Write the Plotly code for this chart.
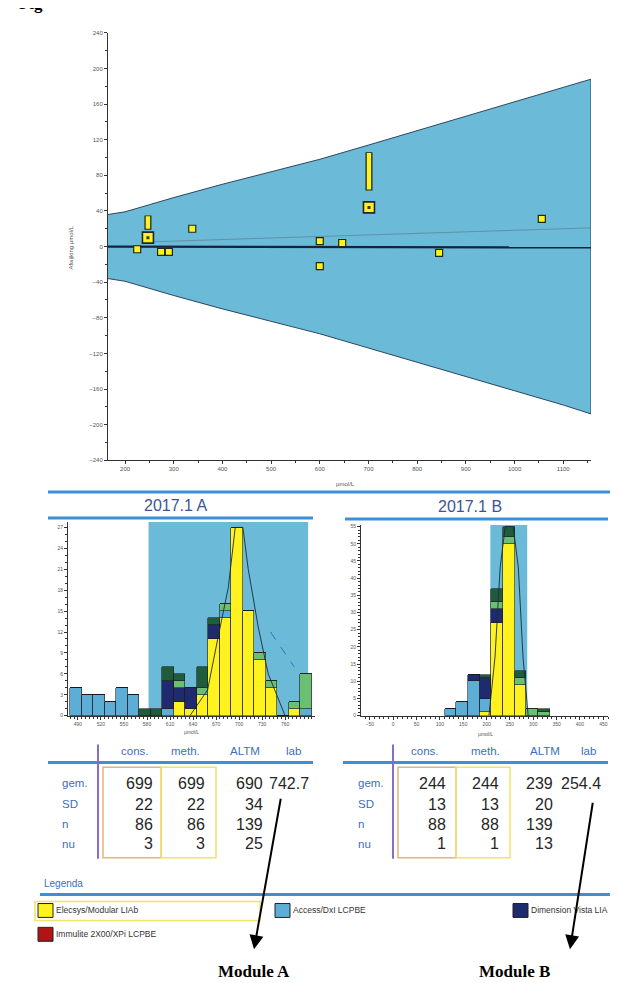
import plotly.graph_objects as go

W, H = 618, 983


def px(x):
    return x / W


def py(y):
    return 1 - y / H


# ---------------- top chart (difference plot) ----------------
band_x = [165, 200, 250, 300, 400, 500, 600, 700, 800, 900, 1000, 1100, 1157]
band_upper = [36, 39, 47, 55, 70, 84, 98, 114, 130, 146, 162, 178, 188]
band_lower = [-36, -39, -47, -55, -70, -84, -98, -114, -130, -146, -162, -178, -188]
zero_x = [165, 1157]
zero_y = [0, -1]
reg_x = [235, 1157]
reg_y = [5, 21]
pt_x = [225, 274, 290, 338, 600, 600, 646, 845, 1056]
pt_y = [-3, -6, -6, 20, 6, -22, 4, -7, 31]
big_x = [247, 701]
big_y = [10, 44]
range_x = [247, 701]
range_lo = [20, 64]
range_hi = [34, 105]
top_yticks = [-240, -200, -160, -120, -80, -40, 0, 40, 80, 120, 160, 200, 240]
top_xticks = [200, 300, 400, 500, 600, 700, 800, 900, 1000, 1100]

# ---------------- histograms ----------------
a_bins = [487.5, 502.5, 517.5, 532.5, 547.5, 562.5, 577.5, 592.5, 607.5, 622.5, 637.5,
          652.5, 667.5, 682.5, 697.5, 712.5, 727.5, 742.5, 757.5, 772.5, 787.5]
a_yellow = [0, 0, 0, 0, 0, 0, 0, 0, 0, 2, 1, 3, 11, 14, 27, 15, 8, 4, 0, 1, 0]
a_lblue = [4, 3, 3, 2, 4, 3, 0, 0, 1, 0, 0, 0, 0, 1, 0, 0, 0, 0, 0, 0, 1]
a_navy = [0, 0, 0, 0, 0, 0, 0, 0, 4, 2, 3, 0, 2, 0, 0, 0, 0, 0, 0, 0, 0]
a_lgreen = [0, 0, 0, 0, 0, 0, 0, 0, 0, 1, 0, 1, 0, 1, 0, 0, 1, 1, 0, 1, 5]
a_dgreen = [0, 0, 0, 0, 0, 0, 1, 1, 2, 1, 0, 3, 1, 0, 0, 0, 0, 0, 0, 0, 0]
a_curve_x = [636, 659, 672, 686, 695, 705, 712, 725, 738, 751, 760]
a_curve_y = [0, 3.7, 10.9, 18.4, 27, 27, 21, 12.7, 6, 2.3, 0]
a_band = [582, 790]
a_lab_x = [741, 772]
a_lab_y = [12, 7]
a_xticks = [490, 520, 550, 580, 610, 640, 670, 700, 730, 760]
a_yticks = [0, 3, 6, 9, 12, 15, 18, 21, 24, 27]

b_bins = [122.5, 147.5, 172.5, 197.5, 222.5, 247.5, 272.5, 297.5, 322.5]
b_yellow = [0, 0, 0, 1, 27, 50, 9, 0, 0]
b_lblue = [2, 4, 10, 4, 0, 0, 0, 0, 0]
b_navy = [0, 0, 2, 6, 4, 0, 0, 0, 0]
b_lgreen = [0, 0, 0, 0, 2, 2, 2, 2, 1]
b_dgreen = [0, 0, 0, 1, 4, 3, 2, 0, 1]
b_curve_x = [205, 218, 229, 240, 257, 268, 278, 289]
b_curve_y = [0, 17, 43, 55, 55, 43, 17, 0]
b_band = [208, 287]
b_xticks = [-50, 0, 50, 100, 150, 200, 250, 300, 350, 400, 450]
b_yticks = [0, 5, 10, 15, 20, 25, 30, 35, 40, 45, 50, 55]

# ---------------- tables ----------------
row_labels = ["gem.", "SD", "n", "nu"]
col_headers = ["cons.", "meth.", "ALTM", "lab"]
a_cons = ["699", "22", "86", "3"]
a_meth = ["699", "22", "86", "3"]
a_altm = ["690", "34", "139", "25"]
a_lab = ["742.7", "", "", ""]
b_cons = ["244", "13", "88", "1"]
b_meth = ["244", "13", "88", "1"]
b_altm = ["239", "20", "139", "13"]
b_lab = ["254.4", "", "", ""]

legend_names = ["Elecsys/Modular LIAb", "Access/DxI LCPBE", "Dimension Vista LIA",
                "Immulite 2X00/XPi LCPBE"]

YELLOW = "#FFF21F"
LBLUE = "#5DAED6"
NAVY = "#1F2B6E"
LGREEN = "#6BBF73"
DGREEN = "#1F5C3C"
RED = "#B01515"
BAND = "#6BBAD7"
LINEBLUE = "#3D90D8"
TXTBLUE = "#3A6FBF"
PURPLE = "#8A6CC8"

fig = go.Figure()

# band
fig.add_trace(go.Scatter(
    x=band_x + band_x[::-1], y=band_upper + band_lower[::-1],
    fill="toself", fillcolor=BAND, mode="lines",
    line=dict(color="#1C3550", width=0.9), hoverinfo="skip", showlegend=False,
    xaxis="x", yaxis="y"))
fig.add_trace(go.Scatter(x=zero_x, y=zero_y, mode="lines",
                         line=dict(color="#14243F", width=2.2), showlegend=False))
fig.add_trace(go.Scatter(x=reg_x, y=reg_y, mode="lines",
                         line=dict(color="#5E8799", width=0.8), showlegend=False))
# range bars
for xv, lo, hi in zip(range_x, range_lo, range_hi):
    fig.add_trace(go.Scatter(x=[xv, xv], y=[lo - 1, hi + 1], mode="lines",
                             line=dict(color="#1E2A20", width=7), showlegend=False))
    fig.add_trace(go.Scatter(x=[xv, xv], y=[lo, hi], mode="lines",
                             line=dict(color=YELLOW, width=4.4), showlegend=False))
fig.add_trace(go.Scatter(x=pt_x, y=pt_y, mode="markers", showlegend=False,
                         marker=dict(symbol="square", size=7, color=YELLOW,
                                     line=dict(color="#1E2A20", width=1.2))))
fig.add_trace(go.Scatter(x=big_x, y=big_y, mode="markers", showlegend=False,
                         marker=dict(symbol="square", size=11, color=YELLOW,
                                     line=dict(color="#1E2A20", width=1.6))))
fig.add_trace(go.Scatter(x=big_x, y=big_y, mode="markers", showlegend=False,
                         marker=dict(symbol="square", size=3, color="#3A3A20")))

# histograms
series = [("yellow", YELLOW), ("lblue", LBLUE), ("navy", NAVY), ("lgreen", LGREEN), ("dgreen", DGREEN)]
a_data = dict(yellow=a_yellow, lblue=a_lblue, navy=a_navy, lgreen=a_lgreen, dgreen=a_dgreen)
b_data = dict(yellow=b_yellow, lblue=b_lblue, navy=b_navy, lgreen=b_lgreen, dgreen=b_dgreen)
for key, col in series:
    fig.add_trace(go.Bar(x=a_bins, y=a_data[key], width=15, marker=dict(color=col, line=dict(color="#1a1a1a", width=0.6)),
                         xaxis="x2", yaxis="y2", showlegend=False))
for key, col in series:
    fig.add_trace(go.Bar(x=b_bins, y=b_data[key], width=25, marker=dict(color=col, line=dict(color="#1a1a1a", width=0.6)),
                         xaxis="x3", yaxis="y3", showlegend=False))
fig.add_trace(go.Scatter(x=a_curve_x, y=a_curve_y, mode="lines", line=dict(color="#1d2a3a", width=0.9),
                         xaxis="x2", yaxis="y2", showlegend=False))
fig.add_trace(go.Scatter(x=a_lab_x, y=a_lab_y, mode="lines", line=dict(color="#3070C0", width=1, dash="dash"),
                         xaxis="x2", yaxis="y2", showlegend=False))
fig.add_trace(go.Scatter(x=b_curve_x, y=b_curve_y, mode="lines", line=dict(color="#1d2a3a", width=0.9),
                         xaxis="x3", yaxis="y3", showlegend=False))

shapes = []
annotations = []

# histogram bands
shapes.append(dict(type="rect", xref="x2", yref="y2", x0=a_band[0], x1=a_band[1], y0=0, y1=27.8,
                   fillcolor=BAND, line=dict(width=0), layer="below"))
shapes.append(dict(type="rect", xref="x3", yref="y3", x0=b_band[0], x1=b_band[1], y0=0, y1=55.5,
                   fillcolor=BAND, line=dict(width=0), layer="below"))


def pline(x0, y0, x1, y1, color, width):
    shapes.append(dict(type="line", xref="paper", yref="paper", x0=px(x0), y0=py(y0), x1=px(x1), y1=py(y1),
                       line=dict(color=color, width=width)))


def ptext(x, y, text, size, color="#333", xanchor="center", family="Liberation Sans, Arial", **kw):
    annotations.append(dict(xref="paper", yref="paper", x=px(x), y=py(y), text=text, showarrow=False,
                            xanchor=xanchor, yanchor="middle", font=dict(size=size, color=color, family=family), **kw))


# section lines and titles
pline(40, 484, 618, 484, LINEBLUE, 3)
pline(40, 510, 305, 510, LINEBLUE, 3)
pline(337, 511, 600, 511, LINEBLUE, 3)
ptext(168, 498, "2017.1 A", 16, "#3B5593")
ptext(462, 499, "2017.1 B", 16, "#3B5593")

# axis titles
ptext(183, 725, "µmol/L", 5, "#555")
ptext(477, 727, "µmol/L", 5, "#555")
ptext(337, 476, "µmol/L", 6, "#555")
ptext(63, 238, "Afwijking µmol/L", 6, "#555", textangle=-90)

# tables
tables = [
    dict(x0=40, x1=305, vline=90, label_x=52, hdr=[127, 177, 237, 285], right=[147, 199, 257, 303],
         box=[95, 153, 208], cols=[a_cons, a_meth, a_altm, a_lab]),
    dict(x0=335, x1=600, vline=385, label_x=348, hdr=[417, 477, 537, 580], right=[440, 493, 547, 595],
         box=[390, 448, 502], cols=[b_cons, b_meth, b_altm, b_lab]),
]
row_y = [777, 798, 818, 838]
for t in tables:
    for hx, h in zip(t["hdr"], col_headers):
        ptext(hx, 745, h, 11.5, TXTBLUE)
    pline(t["x0"], 756, t["x1"], 756, LINEBLUE, 3)
    pline(t["vline"], 738, t["vline"], 853, PURPLE, 2)
    shapes.append(dict(type="rect", xref="paper", yref="paper", x0=px(t["box"][0]), x1=px(t["box"][1]),
                       y0=py(852), y1=py(761), line=dict(color="#E2B47E", width=1.5)))
    shapes.append(dict(type="rect", xref="paper", yref="paper", x0=px(t["box"][1]), x1=px(t["box"][2]),
                       y0=py(852), y1=py(761), line=dict(color="#F2E26A", width=1.5)))
    for ry, lab in zip(row_y, row_labels):
        ptext(t["label_x"], ry, lab, 11.5, TXTBLUE, xanchor="left")
    for rx, col in zip(t["right"], t["cols"]):
        for ry, v in zip(row_y, col):
            if v:
                ptext(rx, ry, v, 16, "#262626", xanchor="right")

# legend
ptext(34, 878, "Legenda", 10, TXTBLUE, xanchor="left")
pline(32, 889, 618, 889, LINEBLUE, 3)
shapes.append(dict(type="rect", xref="paper", yref="paper", x0=px(27), x1=px(252), y0=py(915), y1=py(896),
                   line=dict(color="#F2E26A", width=1.5)))
leg_items = [(30, 905, YELLOW), (267, 905, LBLUE), (505, 905, NAVY), (30, 929, RED)]
for (lx, ly, col), name in zip(leg_items, legend_names):
    shapes.append(dict(type="rect", xref="paper", yref="paper", x0=px(lx), x1=px(lx + 15), y0=py(ly + 7),
                       y1=py(ly - 7), fillcolor=col, line=dict(color="#222", width=1)))
    ptext(lx + 16, ly, name, 8.5, "#333", xanchor="left")

# arrows and module labels
annotations.append(dict(xref="paper", yref="paper", x=px(246), y=py(944), ax=27, ay=-152, showarrow=True,
                        arrowhead=2, arrowsize=1.4, arrowwidth=2, arrowcolor="#000", text=""))
annotations.append(dict(xref="paper", yref="paper", x=px(562), y=py(944), ax=23, ay=-148, showarrow=True,
                        arrowhead=2, arrowsize=1.4, arrowwidth=2, arrowcolor="#000", text=""))
ptext(246, 966, "<b>Module A</b>", 17, "#000", family="Liberation Serif, Times New Roman")
ptext(506, 966, "<b>Module B</b>", 17, "#000", family="Liberation Serif, Times New Roman")
annotations.append(dict(xref="paper", yref="paper", x=px(9), y=py(4), text="<b>Fig</b>", showarrow=False,
                        xanchor="left", yanchor="bottom",
                        font=dict(size=17, color="#000", family="Liberation Serif, Times New Roman")))

tickfont_small = dict(size=5, color="#555", family="Liberation Sans, Arial")
axis_common = dict(showline=True, linecolor="#333", linewidth=1, ticks="outside", ticklen=3, tickcolor="#333",
                   showgrid=False, zeroline=False, tickfont=tickfont_small)

fig.update_layout(
    width=W, height=H, margin=dict(l=0, r=0, t=0, b=0), paper_bgcolor="white", plot_bgcolor="white",
    barmode="stack", bargap=0, showlegend=False,
    xaxis=dict(domain=[px(100), px(583)], range=[165, 1157], anchor="y", tickvals=top_xticks,
               minor=dict(dtick=50, tick0=0, ticks="outside", ticklen=2, tickcolor="#333"),
               **{**axis_common, "tickfont": dict(size=6, color="#555", family="Liberation Sans, Arial")}),
    yaxis=dict(domain=[py(452), py(22)], range=[-240, 240], anchor="x", tickvals=top_yticks,
               minor=dict(dtick=20, tick0=0, ticks="outside", ticklen=2, tickcolor="#333"),
               **{**axis_common, "tickfont": dict(size=6, color="#555", family="Liberation Sans, Arial")}),
    xaxis2=dict(domain=[px(60), px(307)], range=[477, 799], anchor="y2", tickvals=a_xticks,
                minor=dict(dtick=5, tick0=490, ticks="outside", ticklen=2, tickcolor="#333"), **axis_common),
    yaxis2=dict(domain=[py(709), py(514)], range=[0, 27.8], anchor="x2", tickvals=a_yticks,
                minor=dict(dtick=1, ticks="outside", ticklen=2, tickcolor="#333"), **axis_common),
    xaxis3=dict(domain=[px(353), px(600)], range=[-69, 460], anchor="y3", tickvals=b_xticks,
                minor=dict(dtick=10, tick0=0, ticks="outside", ticklen=2, tickcolor="#333"), **axis_common),
    yaxis3=dict(domain=[py(709), py(517)], range=[0, 55.5], anchor="x3", tickvals=b_yticks,
                minor=dict(dtick=1, ticks="outside", ticklen=2, tickcolor="#333"), **axis_common),
    shapes=shapes, annotations=annotations,
)

fig.write_html("out.html")
